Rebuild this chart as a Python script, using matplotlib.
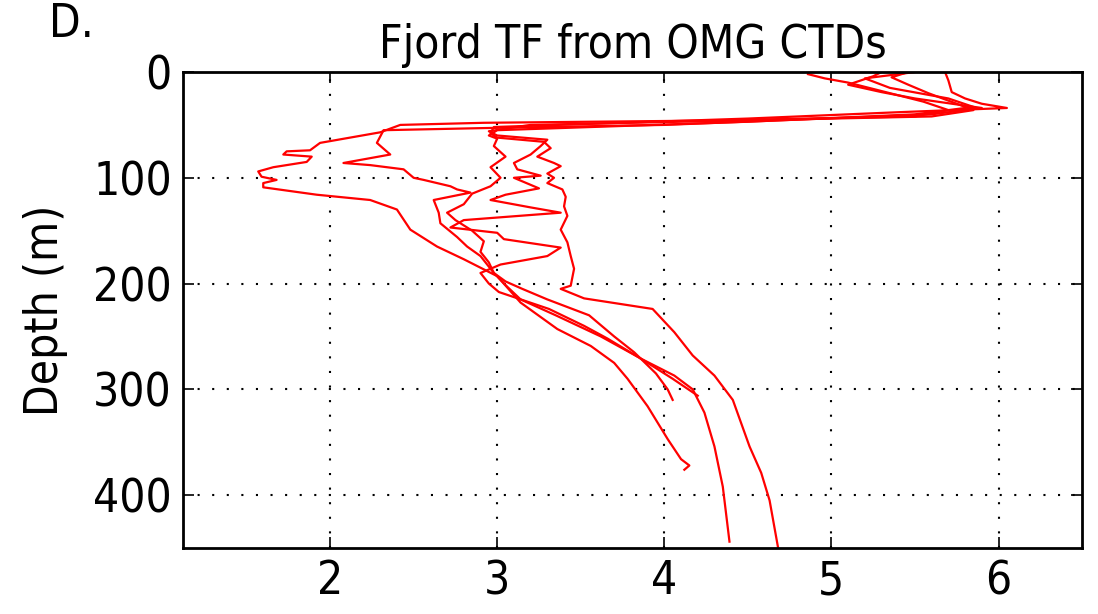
import matplotlib
matplotlib.use('Agg')
import matplotlib.pyplot as plt

# thermal forcing (deg C) vs depth (m), one pair per CTD cast
d1 = [2, 6, 10, 18, 28, 36, 42, 46, 48, 50, 57, 67, 74, 75, 78, 80, 85, 90, 94, 99, 102, 105, 109, 116, 121, 130, 149, 165, 177, 193, 218, 243, 259, 275, 290, 316, 347, 366, 372, 376]
tf1 = [4.86, 4.96, 5.1, 5.3, 5.55, 5.7, 5.5, 4.2, 2.92, 2.42, 2.30, 1.94, 1.88, 1.74, 1.72, 1.89, 1.86, 1.66, 1.57, 1.59, 1.68, 1.60, 1.60, 1.92, 2.24, 2.40, 2.48, 2.64, 2.80, 3.00, 3.14, 3.36, 3.56, 3.70, 3.78, 3.90, 4.02, 4.10, 4.15, 4.12]

d2 = [0, 4, 12, 19, 25, 34, 40, 50, 53, 55, 67, 78, 86, 88, 92, 100, 102, 108, 111, 114, 121, 133, 143, 156, 165, 174, 190, 203, 215, 230, 250, 270, 290, 306]
tf2 = [5.3, 5.25, 5.1, 5.3, 5.5, 5.9, 5.6, 4.0, 2.92, 2.32, 2.28, 2.36, 2.08, 2.24, 2.44, 2.50, 2.56, 2.72, 2.76, 2.84, 2.62, 2.65, 2.66, 2.76, 2.82, 2.90, 2.98, 3.06, 3.14, 3.35, 3.62, 3.85, 4.05, 4.20]

d3 = [0, 8, 19, 25, 30, 34, 38, 44, 52, 58, 62, 66, 72, 80, 86, 89, 96, 100, 105, 111, 118, 127, 136, 149, 161, 174, 186, 202, 205, 214, 224, 246, 268, 287, 310, 332, 354, 379, 405, 449]
tf3 = [5.68, 5.70, 5.72, 5.80, 5.9, 6.05, 5.4, 4.5, 2.98, 2.96, 3.0, 3.28, 3.32, 3.24, 3.34, 3.38, 3.30, 3.34, 3.30, 3.39, 3.41, 3.40, 3.42, 3.38, 3.42, 3.44, 3.46, 3.44, 3.38, 3.52, 3.93, 4.06, 4.17, 4.30, 4.41, 4.46, 4.51, 4.58, 4.63, 4.68]

d4 = [0, 5, 12, 20, 30, 36, 42, 50, 56, 60, 64, 70, 78, 86, 92, 98, 100, 104, 110, 116, 121, 128, 133, 140, 147, 152, 158, 166, 174, 182, 190, 200, 208, 224, 240, 252, 271, 287, 300, 322, 354, 392, 444]
tf4 = [5.46, 5.36, 5.46, 5.58, 5.75, 5.85, 5.6, 3.2, 2.95, 3.0, 3.3, 3.26, 3.2, 3.1, 3.12, 3.26, 3.10, 3.16, 3.25, 3.05, 2.96, 3.20, 3.38, 2.80, 2.72, 3.0, 3.04, 3.38, 3.30, 3.02, 2.90, 2.95, 3.01, 3.31, 3.52, 3.66, 3.86, 4.06, 4.17, 4.24, 4.30, 4.35, 4.39]

d5 = [0, 6, 15, 25, 33, 40, 47, 55, 60, 63, 70, 80, 90, 100, 108, 115, 125, 133, 140, 150, 160, 170, 180, 190, 198, 205, 215, 230, 250, 265, 285, 300, 310]
tf5 = [5.5, 5.2, 5.35, 5.7, 5.85, 5.5, 4.5, 3.0, 2.95, 3.0, 2.98, 3.05, 2.96, 3.02, 2.96, 2.85, 2.80, 2.70, 2.75, 2.85, 2.92, 2.90, 2.95, 2.98, 3.05, 3.15, 3.30, 3.55, 3.70, 3.82, 3.95, 4.02, 4.05]

casts = [(tf1, d1), (tf2, d2), (tf3, d3), (tf4, d4), (tf5, d5)]

plt.rcParams['font.family'] = 'DejaVu Sans'
plt.rcParams['font.stretch'] = 'condensed'
fs = 33

fig = plt.figure(figsize=(10.98, 6.14), dpi=100)
ax = fig.add_axes([0.1667, 0.1075, 0.8188, 0.7752])

for tf, d in casts:
    ax.plot(tf, d, 'r-', lw=1.6)

ax.set_xlim(1.12, 6.5)
ax.set_ylim(450, 0)
ax.set_xticks([2, 3, 4, 5, 6])
ax.set_yticks([0, 100, 200, 300, 400])
ax.grid(True, color='k', linestyle=(0, (1, 6)), linewidth=1.5)
ax.tick_params(direction='in', top=True, right=True, length=8, width=1.2, labelsize=fs, pad=8)
for s in ax.spines.values():
    s.set_linewidth(2)
ax.set_ylabel('Depth (m)', fontsize=fs, labelpad=18)
ax.set_title('Fjord TF from OMG CTDs', fontsize=fs, pad=10)
fig.text(0.045, 0.94, 'D.', fontsize=fs)

fig.savefig('out.png', dpi=100)
